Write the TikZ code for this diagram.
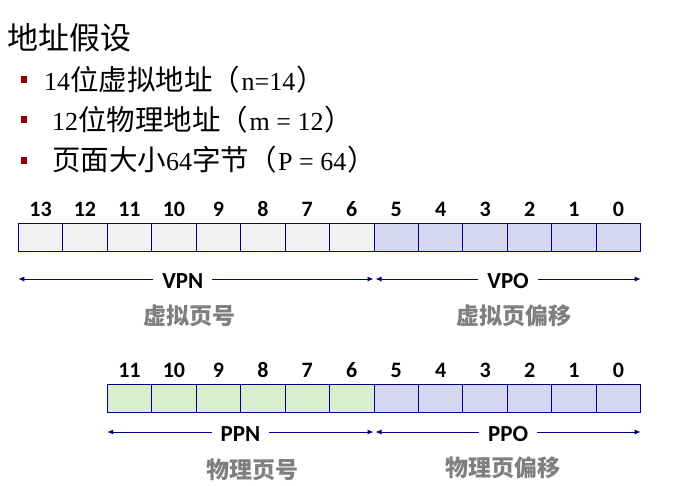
\documentclass[tikz,border=0pt]{standalone}
\usepackage{fontspec}
\setmainfont{Liberation Serif}
\newfontfamily\cjk{Noto Sans CJK SC}
\newfontfamily\calib{Carlito}
\usetikzlibrary{arrows.meta}
\definecolor{bitline}{RGB}{0,0,128}
\definecolor{vpncol}{RGB}{242,242,242}
\definecolor{offcol}{RGB}{214,216,242}
\definecolor{ppncol}{RGB}{216,240,208}
\definecolor{bullred}{RGB}{153,0,0}
\definecolor{labgray}{RGB}{127,127,127}
\newcommand\cnsize{\fontsize{28.5}{28.5}\selectfont\cjk}
\newcommand\cnopen{\kern-1pt{\cjk （}\kern1.5pt}
\newcommand\cnclose{\kern1pt{\cjk ）}}
\tikzset{
  bitcell/.style={draw=bitline,line width=0.9pt,minimum width=44.46pt,minimum height=28pt,inner sep=0pt,outer sep=0pt},
  bitnum/.style={font=\calib\bfseries\fontsize{22}{22}\selectfont,inner sep=0pt},
  fieldarrow/.style={draw=bitline,line width=0.9pt,{Latex[length=6pt,width=5pt]}-{Latex[length=6pt,width=5pt]}},
  fieldname/.style={fill=white,font=\calib\bfseries\fontsize{23}{23}\selectfont,inner xsep=9pt,inner ysep=2pt},
  fieldmeaning/.style={text=labgray,font=\cjk\bfseries\fontsize{23}{23}\selectfont,inner sep=0pt},
  dotsq/.style={fill=bullred,minimum width=6pt,minimum height=7pt,inner sep=0pt},
  itemtext/.style={anchor=west,inner sep=0pt,font=\fontsize{26}{26}\selectfont}
}
\begin{document}
\begin{tikzpicture}[x=1pt,y=-1pt]
  \useasboundingbox (0,0) rectangle (682,485);
  % heading and assumptions
  \node[anchor=west,inner sep=0pt,font=\cjk\fontsize{31}{31}\selectfont] (title) at (7,38) {地址假设};
  \node[dotsq] (d1) at (23.7,79) {};
  \node[dotsq] (d2) at (23.7,119) {};
  \node[dotsq] (d3) at (23.7,160) {};
  \node[itemtext] (t1) at (44,80) {14{\cnsize 位虚拟地址\cnopen}n=14{\cnsize\cnclose}};
  \node[itemtext] (t2) at (52,120) {12{\cnsize 位物理地址\cnopen}m = 12{\cnsize\cnclose}};
  \node[itemtext] (t3) at (52,160) {{\cnsize 页面大小}64{\cnsize 字节\cnopen}P = 64{\cnsize\cnclose}};

  % virtual address
  \foreach \b in {13,...,6}
    \node[bitcell,fill=vpncol] (v\b) at ({18.3+(13.5-\b)*44.46},237.3) {};
  \foreach \b in {5,...,0}
    \node[bitcell,fill=offcol] (v\b) at ({18.3+(13.5-\b)*44.46},237.3) {};
  \foreach \b in {13,...,0}
    \node[bitnum] (vn\b) at ({18.3+(13.5-\b)*44.46},209) {\b};
  \coordinate (vl) at (18.3,279);
  \coordinate (vm1) at (373.5,279);
  \coordinate (vm2) at (375.5,279);
  \coordinate (vr) at (640.7,279);
  \draw[fieldarrow] (vl) -- node[fieldname,pos=0.463,yshift=-2pt] (vpn) {VPN} (vm1);
  \draw[fieldarrow] (vm2) -- node[fieldname,yshift=-2pt] (vpo) {VPO} (vr);
  \node[fieldmeaning] (vpnm) at (189,316) {虚拟页号};
  \node[fieldmeaning] (vpom) at (514,316) {虚拟页偏移};

  % physical address
  \foreach \b in {11,...,6}
    \node[bitcell,fill=ppncol] (p\b) at ({18.3+(13.5-\b)*44.46},398) {};
  \foreach \b in {5,...,0}
    \node[bitcell,fill=offcol] (p\b) at ({18.3+(13.5-\b)*44.46},398) {};
  \foreach \b in {11,...,0}
    \node[bitnum] (pn\b) at ({18.3+(13.5-\b)*44.46},370) {\b};
  \coordinate (pl) at (107.2,432);
  \coordinate (pm1) at (373.5,432);
  \coordinate (pm2) at (375.5,432);
  \coordinate (pr) at (640.7,432);
  \draw[fieldarrow] (pl) -- node[fieldname,yshift=-2pt] (ppn) {PPN} (pm1);
  \draw[fieldarrow] (pm2) -- node[fieldname,yshift=-2pt] (ppo) {PPO} (pr);
  \node[fieldmeaning] (ppnm) at (252,470) {物理页号};
  \node[fieldmeaning] (ppom) at (503,468) {物理页偏移};
\end{tikzpicture}
\end{document}
